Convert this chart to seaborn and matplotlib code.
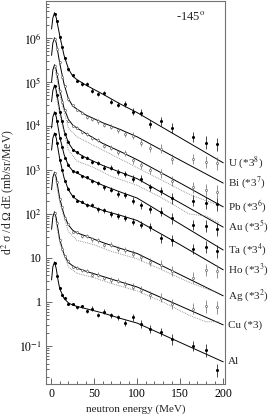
import numpy as np
import pandas as pd
import matplotlib
matplotlib.use("Agg")
import matplotlib.pyplot as plt
import seaborn as sns
from matplotlib.ticker import FixedLocator, FixedFormatter, LogLocator, MultipleLocator, NullFormatter

# targets, top curve first; values are log10 of d2sigma/dOmega dE
targets = ["U", "Bi", "Pb", "Au", "Ta", "Ho", "Ag", "Cu", "Al"]
labels = [r"U (*3$^{8}$)", r"Bi (*3$^{7}$)", r"Pb (*3$^{6}$)", r"Au (*3$^{5}$)",
          r"Ta (*3$^{4}$)", r"Ho (*3$^{3}$)", r"Ag (*3$^{2}$)", "Cu (*3)", "Al"]

# solid model curves
e_model = [0.5, 2, 4, 6, 8, 10, 15, 20, 25, 30, 40, 60, 80, 100, 150, 200]
u_model = [6.2, 6.45, 6.57, 6.45, 6.25, 6.05, 5.6, 5.3, 5.13, 5.05, 4.93, 4.72, 4.5, 4.3, 3.73, 3.16]
bi_model = [5.6, 5.88, 6.0, 5.88, 5.65, 5.42, 4.95, 4.62, 4.45, 4.38, 4.25, 4.07, 3.92, 3.75, 3.22, 2.70]
pb_model = [5.0, 5.27, 5.39, 5.27, 5.05, 4.82, 4.4, 4.15, 4.02, 3.95, 3.83, 3.6, 3.42, 3.23, 2.7, 2.16]
au_model = [4.55, 4.8, 4.93, 4.8, 4.58, 4.35, 3.9, 3.62, 3.47, 3.39, 3.28, 3.1, 2.95, 2.8, 2.25, 1.70]
ta_model = [3.95, 4.2, 4.32, 4.2, 3.98, 3.75, 3.35, 3.1, 2.98, 2.93, 2.83, 2.65, 2.5, 2.36, 1.77, 1.18]
ho_model = [3.45, 3.72, 3.84, 3.72, 3.48, 3.25, 2.82, 2.55, 2.4, 2.32, 2.22, 2.08, 1.97, 1.85, 1.3, 0.73]
ag_model = [2.55, 2.83, 2.95, 2.82, 2.58, 2.35, 1.98, 1.75, 1.63, 1.57, 1.5, 1.35, 1.22, 1.1, 0.62, 0.14]
cu_model = [1.65, 1.93, 2.05, 1.9, 1.65, 1.42, 1.08, 0.9, 0.82, 0.77, 0.7, 0.58, 0.46, 0.34, -0.09, -0.52]
al_model = [0.5, 0.8, 0.91, 0.75, 0.5, 0.3, 0.08, -0.02, -0.07, -0.1, -0.15, -0.25, -0.37, -0.48, -0.92, -1.36]

# second (dotted, grey) calculation, only shown for some targets
e_alt = [4, 10, 20, 30, 50, 70, 100, 130, 160, 180, 195]
pb_alt = [5.35, 4.7, 3.95, 3.75, 3.55, 3.35, 3.05, 2.75, 2.45, 2.3, 2.2]
au_alt = [4.9, 4.25, 3.45, 3.2, 3.05, 2.85, 2.65, 2.35, 2.0, 1.95, 1.8]
ag_alt = [2.92, 2.25, 1.6, 1.4, 1.3, 1.15, 0.98, 0.72, 0.45, 0.3, 0.2]
cu_alt = [2.0, 1.35, 0.8, 0.65, 0.55, 0.42, 0.25, 0.0, -0.3, -0.45, -0.45]

# measured points
e_data = [4, 7, 10, 13, 16, 20, 25, 30, 36, 42, 48, 55, 62, 70, 78, 86, 95, 105, 115, 128, 140, 165, 180, 193]
err_data = [0.02, 0.02, 0.02, 0.02, 0.02, 0.03, 0.03, 0.03, 0.04, 0.04, 0.05, 0.05,
            0.05, 0.06, 0.06, 0.07, 0.08, 0.08, 0.09, 0.10, 0.12, 0.12, 0.14, 0.15]
u_data = [6.55, 6.37, 6.02, 5.8, 5.55, 5.28, 5.15, 5.02, 4.95, 4.95, 4.8, 4.72, 4.74, 4.55, 4.48, 4.5, 4.32, 4.3, 4.05, 4.1, 3.95, 3.75, 3.62, 3.58]
bi_data = [5.98, 5.75, 5.45, 5.12, 4.9, 4.6, 4.47, 4.36, 4.3, 4.2, 4.15, 4.1, 4.02, 3.98, 3.9, 3.82, 3.78, 3.62, 3.5, 3.48, 3.25, 3.25, 3.18, 3.15]
pb_data = [5.37, 5.18, 4.8, 4.55, 4.37, 4.12, 4.0, 3.96, 3.85, 3.82, 3.72, 3.68, 3.55, 3.5, 3.4, 3.38, 3.22, 3.1, 3.0, 2.92, 2.75, 2.6, 2.55, 2.5]
au_data = [4.9, 4.7, 4.32, 4.1, 3.82, 3.64, 3.45, 3.4, 3.3, 3.28, 3.18, 3.16, 3.05, 3.05, 2.95, 2.9, 2.8, 2.8, 2.6, 2.52, 2.35, 2.3, 2.25, 2.22]
ta_data = [4.3, 4.1, 3.72, 3.52, 3.28, 3.12, 2.97, 2.95, 2.85, 2.83, 2.75, 2.7, 2.6, 2.55, 2.45, 2.42, 2.3, 2.2, 2.1, 2.05, 1.9, 1.75, 1.72, 1.65]
ho_data = [3.82, 3.62, 3.22, 3.0, 2.75, 2.57, 2.4, 2.3, 2.28, 2.2, 2.2, 2.1, 2.08, 2.0, 1.95, 1.9, 1.82, 1.75, 1.7, 1.45, 1.4, 1.2, 1.25, 1.15]
ag_data = [2.93, 2.72, 2.33, 2.15, 1.9, 1.77, 1.6, 1.58, 1.5, 1.5, 1.42, 1.4, 1.3, 1.3, 1.2, 1.18, 1.1, 1.02, 0.9, 0.85, 0.7, 0.55, 0.72, 0.7]
cu_data = [2.02, 1.8, 1.4, 1.2, 1.05, 0.92, 0.8, 0.78, 0.72, 0.7, 0.62, 0.62, 0.55, 0.5, 0.48, 0.4, 0.35, 0.28, 0.15, 0.1, -0.05, -0.15, -0.1, -0.12]
al_data = [0.88, 0.6, 0.32, 0.15, 0.1, -0.05, -0.05, -0.12, -0.1, -0.2, -0.15, -0.3, -0.22, -0.3, -0.35, -0.48, -0.35, -0.5, -0.62, -0.68, -0.85, -1.0, -1.1, -1.55]

model_logs = [u_model, bi_model, pb_model, au_model, ta_model, ho_model, ag_model, cu_model, al_model]
data_logs = [u_data, bi_data, pb_data, au_data, ta_data, ho_data, ag_data, cu_data, al_data]
alt_logs = {"Pb": pb_alt, "Au": au_alt, "Ag": ag_alt, "Cu": cu_alt}
open_markers = {"Bi", "Pb", "Ag", "Cu"}

sns.set_theme(style="ticks")
plt.rcParams["font.family"] = ["Liberation Serif", "DejaVu Serif"]
plt.rcParams["mathtext.fontset"] = "stix"
plt.rcParams["font.size"] = 8.5

rows = []
for t, logs in zip(targets, model_logs):
    for e, v in zip(e_model, logs):
        rows.append({"target": t, "energy": e, "xs": 10.0 ** v})
df_model = pd.DataFrame(rows)

fig = plt.figure(figsize=(2.72, 4.15), dpi=100)
ax = fig.add_axes([0.169, 0.075, 0.658, 0.923])

sns.lineplot(data=df_model, x="energy", y="xs", units="target", estimator=None,
             color="black", lw=0.7, sort=False, legend=False, ax=ax)

for t in targets:
    if t in alt_logs:
        ax.plot(e_alt, 10.0 ** np.array(alt_logs[t]), color="0.5", lw=0.6, ls=(0, (1, 1.2)))

for t, logs in zip(targets, data_logs):
    v = np.array(logs)
    err = np.array(err_data)
    y = 10.0 ** v
    yerr = [y - 10.0 ** (v - err), 10.0 ** (v + err) - y]
    if t in open_markers:
        ax.errorbar(e_data, y, yerr=yerr, fmt="o", ms=1.5, mfc="white", mec="0.4",
                    mew=0.5, ecolor="0.4", elinewidth=0.5, capsize=0)
    else:
        ax.errorbar(e_data, y, yerr=yerr, fmt="o", ms=1.2, color="black",
                    elinewidth=0.5, capsize=0)

ax.set_yscale("log")
ax.set_xlim(-6, 202)
ax.set_ylim(0.0138, 6.9e6)

major = [1e-1, 1, 10, 1e2, 1e3, 1e4, 1e5, 1e6]
major_labels = [r"$10^{-1}$", "1", "10", r"$10^{2}$", r"$10^{3}$", r"$10^{4}$", r"$10^{5}$", r"$10^{6}$"]
ax.yaxis.set_major_locator(FixedLocator(major))
ax.yaxis.set_major_formatter(FixedFormatter(major_labels))
ax.yaxis.set_minor_locator(LogLocator(base=10, subs=np.arange(2, 10), numticks=20))
ax.yaxis.set_minor_formatter(NullFormatter())
ax.xaxis.set_major_locator(MultipleLocator(50))
ax.xaxis.set_minor_locator(MultipleLocator(10))

ax.tick_params(which="both", direction="in", colors="0.3", labelcolor="black", labelsize=8.5, width=0.6)
ax.tick_params(which="major", length=4, pad=3)
ax.tick_params(which="minor", length=2)
for s in ax.spines.values():
    s.set_color("0.45")
    s.set_linewidth(0.8)

ax.set_xlabel("neutron energy (MeV)", fontsize=8, labelpad=3)
ax.set_ylabel(r"d$^2$ σ /d Ω dE (mb/sr/MeV)", fontsize=8.5, labelpad=2)

ax.text(0.81, 0.958, r"-145$^{\rm o}$", transform=ax.transAxes, ha="center", va="center", fontsize=9)

for lab, logs in zip(labels, model_logs):
    ax.annotate(lab, xy=(1.015, 10.0 ** logs[-1]), xycoords=("axes fraction", "data"),
                ha="left", va="center", fontsize=8, annotation_clip=False)

fig.savefig("out.png", dpi=100)
